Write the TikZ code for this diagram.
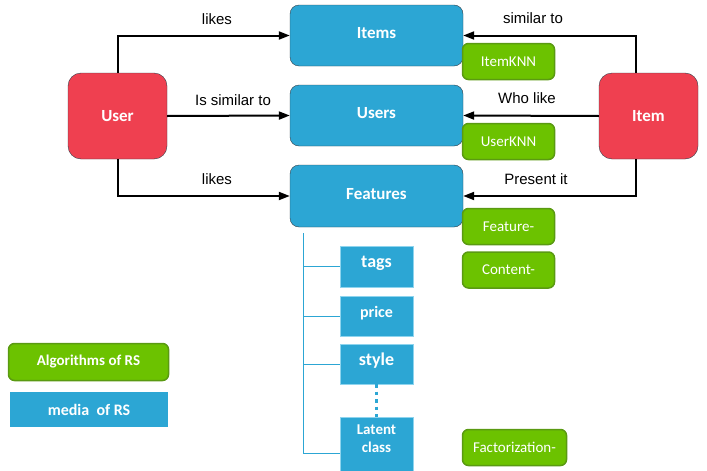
\documentclass[tikz,border=0pt]{standalone}
\usepackage{fontspec}
\setmainfont{Liberation Sans}
\newfontfamily\calfont{Carlito}
\usetikzlibrary{arrows.meta}
\definecolor{rsred}{HTML}{EF4050}
\definecolor{rsblue}{HTML}{2CA6D4}
\definecolor{rsgreen}{HTML}{6CC200}
\definecolor{rsgreenline}{HTML}{5A9A12}
\definecolor{darkline}{HTML}{2F3F4A}
\definecolor{lightblue}{HTML}{8ED4EE}
\begin{document}
\begin{tikzpicture}[x=1pt,y=-1pt, every node/.style={inner sep=0pt},
    redbox/.style={draw=darkline,fill=rsred,rounded corners=13pt,minimum width=99pt,minimum height=86pt,text=white,font=\calfont\bfseries\fontsize{17}{20}\selectfont},
    bluebox/.style={draw=darkline,fill=rsblue,rounded corners=9pt,minimum width=173pt,minimum height=61pt,text height=12pt,text depth=6pt,text=white,font=\calfont\bfseries\fontsize{17}{20}\selectfont},
    greenbox/.style={draw=rsgreenline,line width=1.5pt,fill=rsgreen,rounded corners=6pt,minimum width=92pt,minimum height=36pt,text=white,font=\calfont\fontsize{15}{18}\selectfont},
    featbox/.style={draw=lightblue,fill=rsblue,minimum width=73pt,minimum height=40pt,text height=10pt,text depth=8pt,text=white,font=\calfont\bfseries\fontsize{18}{21}\selectfont},
    rel/.style={line width=2pt,-{Triangle[length=11pt,width=8pt]}},
    lbl/.style={font=\fontsize{15}{18}\selectfont}]
  \useasboundingbox (0,0) rectangle (707,471);
  \node [redbox] (user) at (117.5,116) {User};
  \node [redbox] (item) at (648.5,116) {Item};
  \node [bluebox] (items) at (376.5,35.5) {Items};
  \node [bluebox] (users) at (376.5,115.5) {Users};
  \node [bluebox,minimum height=62pt] (features) at (376.5,196) {Features};
  \node [greenbox] (itemknn) at (508.5,61.5) {ItemKNN};
  \node [greenbox] (userknn) at (508.5,141.5) {UserKNN};
  \node [greenbox] (featalg) at (508.5,226.5) {Feature-};
  \node [greenbox] (content) at (508.5,270) {Content-};
  \node [greenbox,minimum width=104pt] (factor) at (514.5,447.5) {Factorization-};
  \node [featbox,minimum height=41pt] (tags) at (376.5,266.5) {tags};
  \node [featbox,font=\calfont\bfseries\fontsize{16}{19}\selectfont] (price) at (376.5,316) {price};
  \node [featbox] (style) at (376.5,364) {style};
  \node [featbox,minimum height=54pt] (latent) at (376.5,444) {};
  \node [align=center,text=white,font=\calfont\bfseries\fontsize{15}{18}\selectfont,yshift=5pt] (latenttxt) at (latent.center) {Latent\\class};
  \node [greenbox,minimum width=160pt,minimum height=37pt,font=\calfont\bfseries\fontsize{15}{18}\selectfont] (algo) at (88.5,362) {Algorithms of RS};
  \node [fill=rsblue,minimum width=158pt,minimum height=35pt,text=white,font=\calfont\bfseries\fontsize{16}{19}\selectfont] (media) at (89,409.5) {media\ \ of RS};
  % relations
  \draw [rel] (user.north) |- (items.west);
  \draw [rel] (user.east) -- (users.west);
  \draw [rel] (user.south) |- (features.west);
  \draw [rel] ([xshift=-12.5pt]item.north) |- (items.east);
  \draw [rel] (item.west) -- (users.east);
  \draw [rel] ([xshift=-12.5pt]item.south) |- (features.east);
  \node [lbl] (l1) at (217,19) {likes};
  \node [lbl] (l2) at (233,100) {Is similar to};
  \node [lbl] (l3) at (217,179) {likes};
  \node [lbl] (l4) at (533,18) {similar to};
  \node [lbl] (l5) at (527,98) {Who like};
  \node [lbl] (l6) at (536,179) {Present it};
  % feature tree
  \coordinate (trunk) at (303,233);
  \draw [rsblue] (trunk) |- (tags.west);
  \draw [rsblue] (trunk) |- (price.west);
  \draw [rsblue] (trunk) |- (style.west);
  \draw [rsblue] (trunk) |- ([yshift=-9pt]latent.west);
  \draw [rsblue,line width=3.5pt,dash pattern=on 3.5pt off 4pt] (style.south) -- (latent.north);
\end{tikzpicture}
\end{document}
